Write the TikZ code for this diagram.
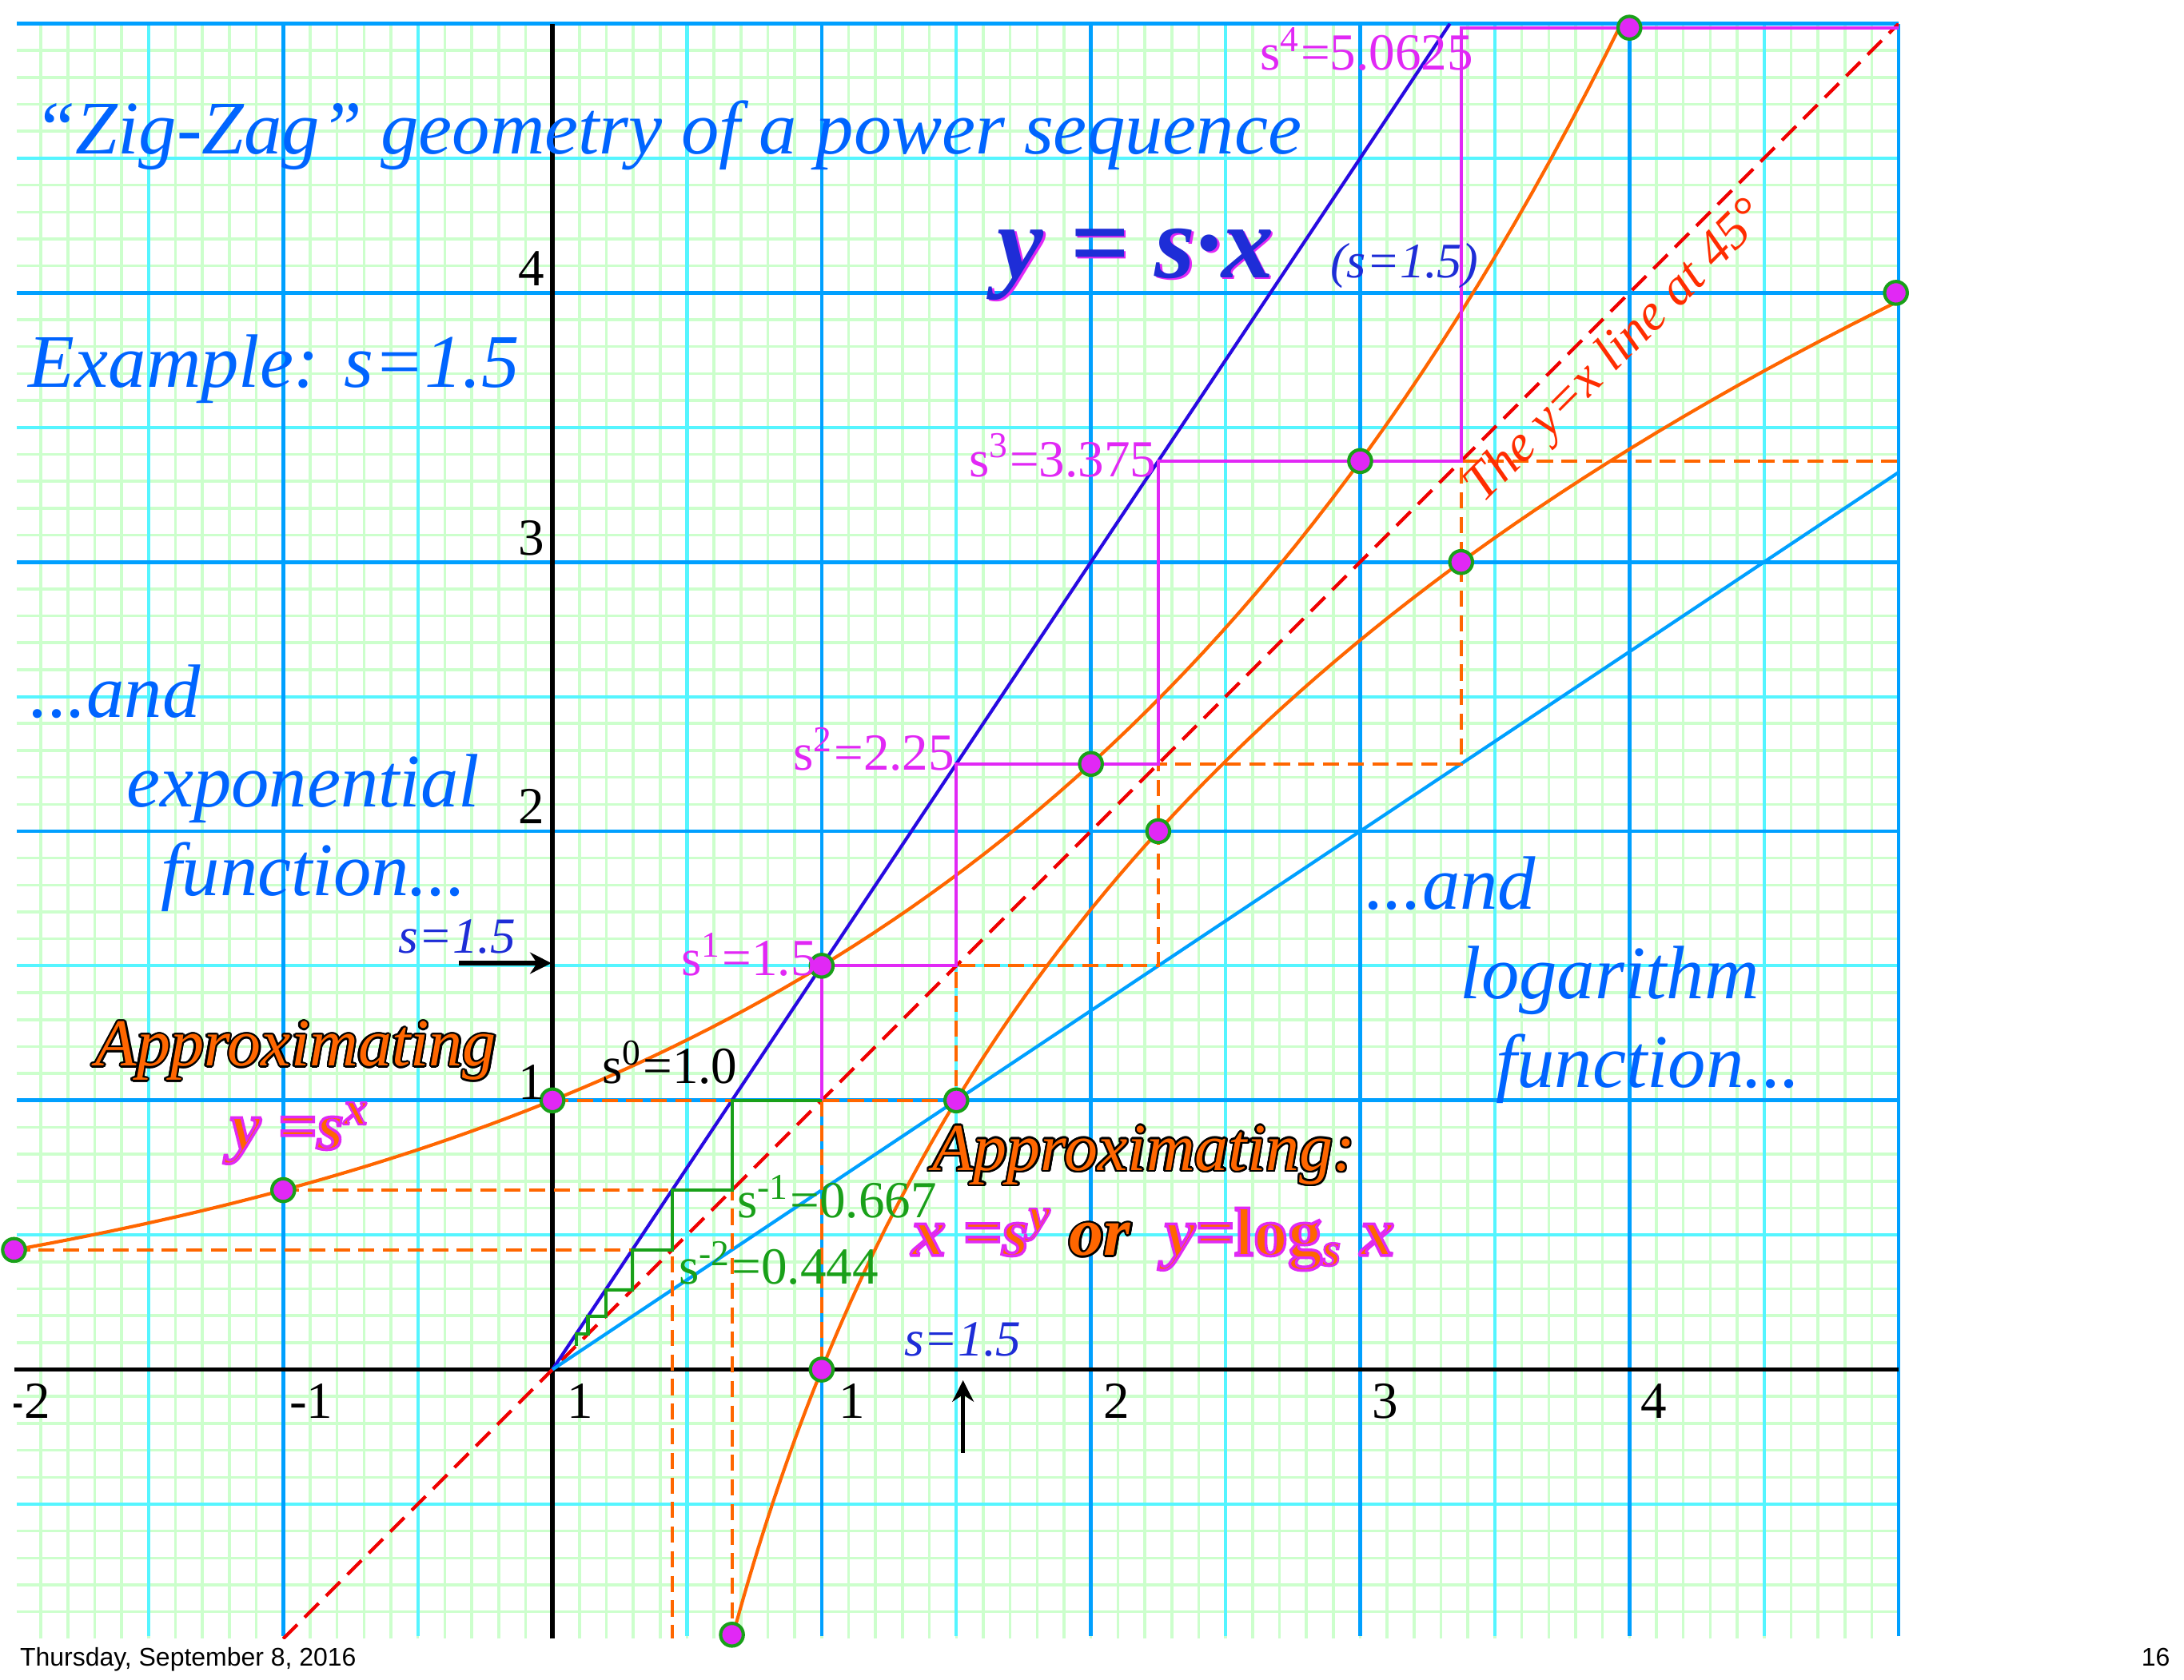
\documentclass[tikz,border=0pt]{standalone}
\usepackage{fontspec}
\setmainfont{Liberation Serif}
\setsansfont{Liberation Sans}
\usepackage{contour}
\usepackage{tikz}
\usetikzlibrary{arrows.meta}
\definecolor{GridGreen}{RGB}{204,255,204}
\definecolor{GridCyan}{RGB}{85,245,255}
\definecolor{GridBlue}{RGB}{0,160,255}
\definecolor{CurveOrange}{RGB}{255,102,0}
\definecolor{LineViolet}{RGB}{40,10,225}
\definecolor{LineSky}{RGB}{0,160,255}
\definecolor{DiagRed}{RGB}{240,0,0}
\definecolor{StepMagenta}{RGB}{225,40,245}
\definecolor{StepGreen}{RGB}{25,160,25}
\definecolor{TitleBlue}{RGB}{0,100,255}
\definecolor{DeepBlue}{RGB}{30,45,215}
\definecolor{NoteRed}{RGB}{255,45,0}
\newcommand{\orangeoutline}[1]{{\contourlength{0.4pt}\textcolor{CurveOrange}{\contour{black}{#1}}}}
\newcommand{\pinkoutline}[1]{{\addfontfeature{FakeBold=4}\color{CurveOrange}\special{pdf:code 0.88 0.16 0.96 RG}#1}}
\tikzset{
  gridfine/.style={draw=GridGreen,line width=0.6pt},
  gridhalf/.style={draw=GridCyan,line width=0.7pt},
  gridunit/.style={draw=GridBlue,line width=0.8pt},
  axisline/.style={draw=black,line width=0.9pt},
  expcurve/.style={draw=CurveOrange,line width=0.7pt},
  guide/.style={draw=CurveOrange,line width=0.7pt,dash pattern=on 3.4pt off 1.8pt},
  diagline/.style={draw=DiagRed,line width=0.7pt,dash pattern=on 4.2pt off 2.2pt},
  zigup/.style={draw=StepMagenta,line width=0.65pt},
  zigdown/.style={draw=StepGreen,line width=0.7pt},
  dotmark/.style={circle,draw=StepGreen,fill=StepMagenta,line width=0.7pt,inner sep=0pt,minimum size=4.8pt},
  lbl/.style={inner sep=0pt,font=\fontsize{11}{13}\selectfont},
  powlbl/.style={lbl,text=StepMagenta},
  neglbl/.style={lbl,text=StepGreen,anchor=base west},
  slbl/.style={inner sep=0pt,anchor=base west,text=DeepBlue,font=\fontsize{10.7}{13}\selectfont\itshape},
  headline/.style={inner sep=0pt,anchor=base west,text=TitleBlue,font=\fontsize{16}{19}\selectfont\itshape},
  approx/.style={inner sep=0pt,anchor=base west,font=\fontsize{14.2}{17}\selectfont\itshape},
  formula/.style={inner sep=0pt,anchor=base west,font=\fontsize{14.5}{17}\selectfont\bfseries\itshape},
  bigformula/.style={inner sep=0pt,anchor=base west,font=\fontsize{22}{26}\selectfont\bfseries\itshape},
  pointer/.style={draw=black,line width=0.9pt,-{Stealth[length=4.5pt,width=4.5pt]}},
  footer/.style={inner sep=0pt,anchor=base west,font=\sffamily\fontsize{5.4}{6.5}\selectfont},
}

\begin{document}
\begin{tikzpicture}[x=2cm,y=2cm]
\fill[white] (-2.052,-1.151) rectangle (6.060,5.088);
\useasboundingbox (-2.052,-1.151) rectangle (6.060,5.088);
\draw[gridfine,step=0.1] (-1.99,-1) grid (5,5);
\draw[gridhalf,step=0.5] (-1.99,-0.99) grid (5,5);
\draw[gridunit,step=1] (-1.99,-0.99) grid (5,5);
\draw[axisline] (-2,0) -- (5,0);
\draw[axisline] (0,-1) -- (0,5);
\coordinate (pe-2) at (-2,{4/9});
\coordinate (pe-1) at (-1,{2/3});
\coordinate (pe0) at (0,1);
\coordinate (pe1) at (1,1.5);
\coordinate (pe2) at (2,2.25);
\coordinate (pe3) at (3,3.375);
\coordinate (pe4) at (4,4.985);
\coordinate (pl-1) at ({2/3},-0.985);
\coordinate (pl0) at (1,0);
\coordinate (pl1) at (1.5,1);
\coordinate (pl2) at (2.25,2);
\coordinate (pl3) at (3.375,3);
\coordinate (pl4) at (4.99,4);
\begin{scope}
\clip (-2,-1) rectangle (5,5);
\draw[diagline] (-1,-1) -- (5,5);
\draw[expcurve] plot[domain=-2:4.05,samples=90] (\x,{pow(1.5,\x)});
\draw[expcurve] plot[domain=-1:4.05,samples=90,variable=\t] ({pow(1.5,\t)},\t);
\draw[draw=LineViolet,line width=0.7pt] (0,0) -- ({10/3},5);
\draw[draw=LineSky,line width=0.7pt] (0,0) -- (5,{10/3});
\end{scope}
\draw[guide] (pe-2) -- ({4/9},{4/9}) -- ({4/9},-1);
\draw[guide] (pe-1) -- ({2/3},{2/3}) -- ({2/3},-1);
\draw[guide] (1,1) -- (pl0);
\draw[guide] (pe0) -- (pl1) -- (1.5,1.5) -- (2.25,1.5) -- (2.25,2.25) -- (3.375,2.25) -- (3.375,3.375) -- (5,3.375);
\draw[zigup] (1,1) \foreach \k in {1,2,3} {-- ({pow(1.5,\k-1)},{pow(1.5,\k)}) -- ({pow(1.5,\k)},{pow(1.5,\k)})} -- (3.375,4.985) -- (5,4.985);
\draw[zigdown] (1,1) \foreach \k in {1,...,6} {-- ({pow(2/3,\k)},{pow(2/3,\k-1)}) -- ({pow(2/3,\k)},{pow(2/3,\k)})};
\foreach \p in {pe-2,pe-1,pe0,pe1,pe2,pe3,pe4,pl-1,pl0,pl1,pl2,pl3,pl4}
  \node[dotmark] (dot\p) at (\p) {};
\begin{scope}
\clip (-2,-1) rectangle (5,5);
\node[lbl,anchor=base west] (xlab-2) at (-2.03,-0.181) {-2};
\end{scope}
\node[lbl,anchor=base west] (xlab-1) at (-0.98,-0.181) {-1};
\node[lbl,anchor=base west] (xlab0) at (0.05,-0.181) {1};
\node[lbl,anchor=base west] (xlab1) at (1.06,-0.181) {1};
\node[lbl,anchor=base west] (xlab2) at (2.043,-0.181) {2};
\node[lbl,anchor=base west] (xlab3) at (3.04,-0.181) {3};
\node[lbl,anchor=base west] (xlab4) at (4.04,-0.181) {4};
\node[lbl,anchor=base east] (ylab1) at (-0.025,1.005) {1};
\node[lbl,anchor=base east] (ylab2) at (-0.025,2.027) {2};
\node[lbl,anchor=base east] (ylab3) at (-0.025,3.027) {3};
\node[lbl,anchor=base east] (ylab4) at (-0.025,4.027) {4};
\node[powlbl,anchor=base west] (pow4) at (2.624,4.827) {s\textsuperscript{4}=5.0625};
\node[powlbl,anchor=base east] (pow3) at (2.246,3.318) {s\textsuperscript{3}=3.375};
\node[powlbl,anchor=base east] (pow2) at (1.497,2.226) {s\textsuperscript{2}=2.25};
\node[powlbl,anchor=base east] (pow1) at (0.985,1.464) {s\textsuperscript{1}=1.5};
\node[lbl,anchor=base west] (pow0) at (0.181,1.062) {s\textsuperscript{0}=1.0};
\node[neglbl] (powm1) at (0.683,0.564) {s\textsuperscript{-1}=0.667};
\node[neglbl] (powm2) at (0.466,0.317) {s\textsuperscript{-2}=0.444};
\node[headline] (title) at (-1.93,4.516) {“Zig-Zag” geometry of a power sequence};
\node[headline] (example) at (-1.949,3.650) {Example: s=1.5};
\node[headline] (expo1) at (-1.944,2.423) {...and};
\node[headline] (expo2) at (-1.586,2.092) {exponential};
\node[headline] (expo3) at (-1.457,1.760) {function...};
\node[headline] (logn1) at (3.016,1.710) {...and};
\node[headline] (logn2) at (3.369,1.379) {logarithm};
\node[headline] (logn3) at (3.50,1.047) {function...};
\node[bigformula,text=StepMagenta] (sxshadow) at (1.658,4.050) {y = s·x};
\node[bigformula,text=DeepBlue] (sxlabel) at (1.650,4.056) {y = s·x};
\node[slbl,font=\fontsize{10.5}{13}\selectfont\itshape] (sxvalue) at (2.886,4.056) {(s=1.5)};
\node[lbl,anchor=base west,rotate=45,text=NoteRed,font=\fontsize{11}{13}\selectfont\itshape] (diaglbl) at (3.456,3.213) {The y=x line at 45°};
\node[approx] (approxL) at (-1.70,1.128) {\orangeoutline{Approximating}};
\node[formula] (expform) at (-1.20,0.819) {\pinkoutline{y =s\textsuperscript{x}}};
\node[approx] (approxR) at (1.408,0.740) {\orangeoutline{Approximating:}};
\node[formula] (logform) at (1.33,0.424) {\pinkoutline{x =s\textsuperscript{y}} \orangeoutline{or}\ \ \pinkoutline{y=\textup{log}\textsubscript{s} x}};
\node[slbl] (sleftlbl) at (-0.574,1.547) {s=1.5};
\node[slbl] (sbotlbl) at (1.303,0.052) {s=1.5};
\coordinate (sleft) at (-0.347,1.51);
\coordinate (yaxis15) at (-0.004,1.51);
\coordinate (sbottom) at (1.525,-0.31);
\coordinate (xaxis15) at (1.525,-0.04);
\draw[pointer] (sleft) -- (yaxis15);
\draw[pointer] (sbottom) -- (xaxis15);
\node[footer] (date) at (-1.981,-1.102) {Thursday, September 8, 2016};
\node[footer,anchor=base east] (pageno) at (6.011,-1.102) {16};
\end{tikzpicture}
\end{document}
